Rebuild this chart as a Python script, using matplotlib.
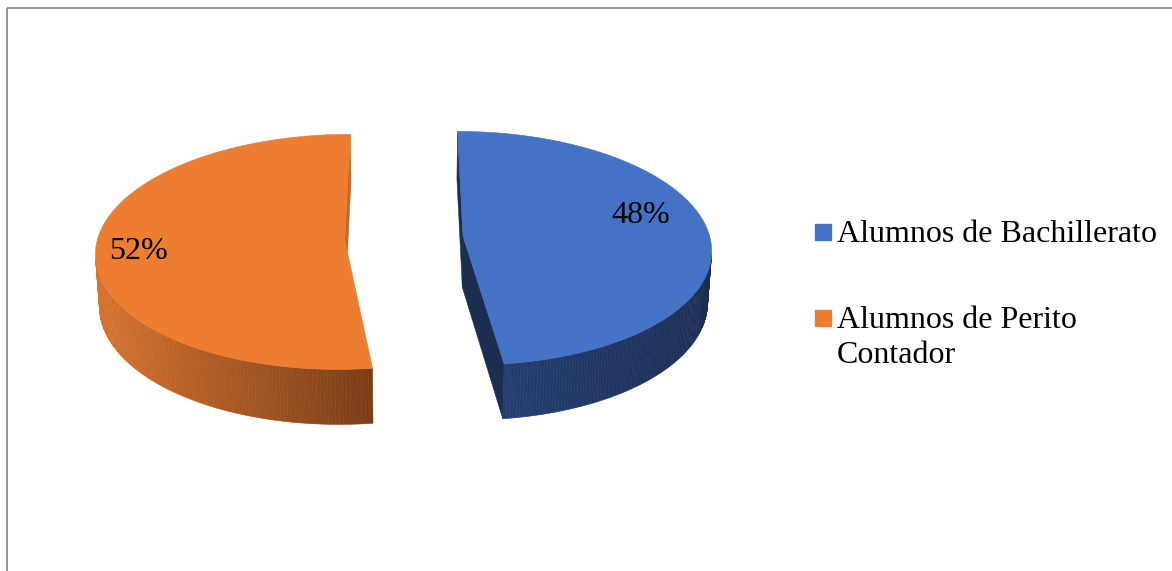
import textwrap
import numpy as np
import matplotlib.pyplot as plt
from matplotlib.patches import Polygon, Rectangle
from matplotlib.colors import to_rgb

# data
categories = ['Alumnos de Bachillerato', 'Alumnos de Perito Contador']
shares = [48, 52]
colors = ['#4472C4', '#ED7D31']
side_left = ['#253D72', '#D6732F']
side_right = ['#1B2D52', '#7A3E17']
inner_colors = ['#1B2D50', '#C4652A']

# view of the 3d pie, in screen pixels
CX, CY = 404, 238
ELEV = np.radians(28)
DIST = 8.6
FOCAL = 2124
EXPLODE = 0.24
THICK = 0.237
CAM = np.array([0, -DIST * np.cos(ELEV), DIST * np.sin(ELEV)])

# where the percent labels sit: (angle deg, radius) from each slice apex
label_spots = [(14.0, 0.76), (187.0, 0.83)]


def project(x, y, z):
    yc = y * np.sin(ELEV) + z * np.cos(ELEV)
    zc = DIST + y * np.cos(ELEV) - z * np.sin(ELEV)
    return CX + FOCAL * x / zc, CY - FOCAL * yc / zc, zc


def facing(px, py, pz, nx, ny, nz=0.0):
    return (CAM[0] - px) * nx + (CAM[1] - py) * ny + (CAM[2] - pz) * nz > 0


def mix(c1, c2, t):
    a, b = np.array(to_rgb(c1)), np.array(to_rgb(c2))
    return tuple(a + (b - a) * t)


fig = plt.figure(figsize=(11.72, 5.71), dpi=100)
ax = fig.add_axes([0, 0, 1, 1])
ax.set_xlim(0, 1172)
ax.set_ylim(571, 0)
ax.axis('off')

ax.add_patch(Rectangle((6.5, 7.5), 1300, 700, fill=False, edgecolor='#8c8c8c', lw=1.3))

total = sum(shares)
start = 90.0
faces = []   # (depth, polygon xy, color)
tops = []
labels = []
for i, s in enumerate(shares):
    sweep = 360.0 * s / total
    a0, a1 = start, start - sweep
    start = a1
    mid = np.radians((a0 + a1) / 2)
    ox, oy = EXPLODE * np.cos(mid), EXPLODE * np.sin(mid)
    ang = np.radians(np.linspace(a0, a1, 240))
    rx, ry = ox + np.cos(ang), oy + np.sin(ang)

    # top surface
    xs = np.concatenate([[ox], rx, [ox]])
    ys = np.concatenate([[oy], ry, [oy]])
    sx, sy, _ = project(xs, ys, 0.0)
    tops.append((np.column_stack([sx, sy]), colors[i]))

    # curved outer side
    tx, ty, tz = project(rx, ry, 0.0)
    bx, by, bz = project(rx, ry, -THICK)
    segs = []
    for k in range(len(ang) - 1):
        am = (ang[k] + ang[k + 1]) / 2
        if not facing(ox + np.cos(am), oy + np.sin(am), -THICK / 2, np.cos(am), np.sin(am)):
            continue
        poly = [(tx[k], ty[k]), (tx[k + 1], ty[k + 1]), (bx[k + 1], by[k + 1]), (bx[k], by[k])]
        segs.append(((tz[k] + tz[k + 1]) / 2, poly, (tx[k] + tx[k + 1]) / 2))
    if segs:
        xmin = min(s_[2] for s_ in segs)
        xmax = max(s_[2] for s_ in segs)
        for d, poly, xm in segs:
            t = (xm - xmin) / max(xmax - xmin, 1)
            faces.append((d, poly, mix(side_left[i], side_right[i], t)))

    # flat inner faces of the cut
    for a, nrm in ((a0, a0 + 90), (a1, a1 - 90)):
        ar, nr = np.radians(a), np.radians(nrm)
        ex, ey = ox + np.cos(ar), oy + np.sin(ar)
        cx_, cy_ = (ox + ex) / 2, (oy + ey) / 2
        if not facing(cx_, cy_, -THICK / 2, np.cos(nr), np.sin(nr)):
            continue
        pts = [project(ox, oy, 0.0), project(ex, ey, 0.0),
               project(ex, ey, -THICK), project(ox, oy, -THICK)]
        depth = np.mean([p[2] for p in pts])
        faces.append((depth, [(p[0], p[1]) for p in pts], inner_colors[i]))

    # percent label
    la, lr = label_spots[i]
    lx, ly, _ = project(ox + lr * np.cos(np.radians(la)), oy + lr * np.sin(np.radians(la)), 0.0)
    labels.append((lx, ly, f'{round(100 * s / total)}%'))

for d, poly, col in sorted(faces, key=lambda f: -f[0]):
    ax.add_patch(Polygon(poly, closed=True, facecolor=col, edgecolor=col, lw=0.4))

for poly, col in tops:
    ax.add_patch(Polygon(poly, closed=True, facecolor=col, edgecolor=col, lw=0.4))

for lx, ly, txt in labels:
    ax.text(lx, ly, txt, ha='center', va='center',
            fontsize=23, family='Liberation Serif', color='black')

# legend
LEG_X, LEG_Y0, LEG_STEP, LINE_GAP = 815, 242, 86, 35
for i, (name, col) in enumerate(zip(categories, colors)):
    base = LEG_Y0 + i * LEG_STEP
    ax.add_patch(Rectangle((LEG_X, base - 18), 16, 16, color=col))
    for k, line in enumerate(textwrap.wrap(name, 23)):
        ax.text(LEG_X + 22, base + k * LINE_GAP, line, ha='left', va='baseline',
                fontsize=23, family='Liberation Serif', color='black')

fig.savefig('out.png', dpi=100)
